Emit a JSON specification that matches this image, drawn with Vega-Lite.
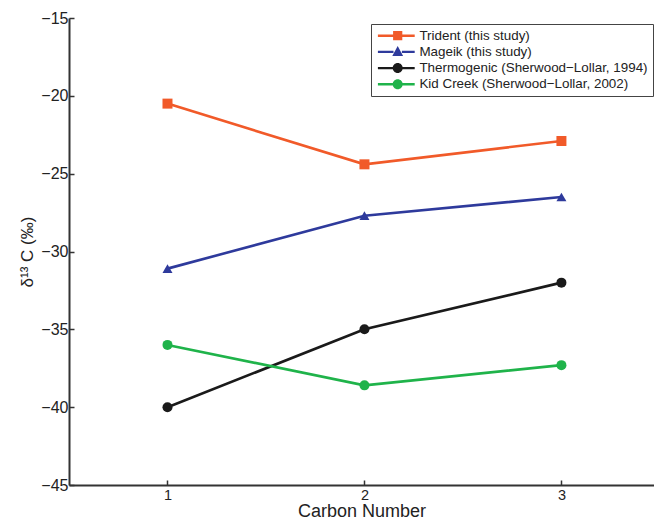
{
  "$schema": "https://vega.github.io/schema/vega-lite/v6.json",
  "width": 585,
  "height": 467,
  "autosize": {"type": "none"},
  "padding": {"left": 69, "top": 18, "right": 0, "bottom": 37},
  "background": "white",
  "config": {
    "view": {"stroke": null},
    "font": "Liberation Sans",
    "axis": {
      "grid": false,
      "domainColor": "#333333",
      "domainWidth": 2,
      "tickColor": "#333333",
      "tickWidth": 1.5,
      "labelColor": "#222222",
      "titleColor": "#222222",
      "labelFont": "Liberation Sans",
      "titleFont": "Liberation Sans",
      "titleFontWeight": "normal"
    }
  },
  "data": {
    "values": [
      {"series": "Trident (this study)", "c": 1, "d13C": -20.5},
      {"series": "Trident (this study)", "c": 2, "d13C": -24.4},
      {"series": "Trident (this study)", "c": 3, "d13C": -22.9},
      {"series": "Mageik (this study)", "c": 1, "d13C": -31.1},
      {"series": "Mageik (this study)", "c": 2, "d13C": -27.7},
      {"series": "Mageik (this study)", "c": 3, "d13C": -26.5},
      {"series": "Thermogenic (Sherwood−Lollar, 1994)", "c": 1, "d13C": -40},
      {"series": "Thermogenic (Sherwood−Lollar, 1994)", "c": 2, "d13C": -35},
      {"series": "Thermogenic (Sherwood−Lollar, 1994)", "c": 3, "d13C": -32},
      {"series": "Kid Creek (Sherwood−Lollar, 2002)", "c": 1, "d13C": -36},
      {"series": "Kid Creek (Sherwood−Lollar, 2002)", "c": 2, "d13C": -38.6},
      {"series": "Kid Creek (Sherwood−Lollar, 2002)", "c": 3, "d13C": -37.3}
    ]
  },
  "encoding": {
    "x": {
      "field": "c",
      "type": "quantitative",
      "scale": {"domain": [0.5, 3.47], "nice": false, "zero": false},
      "axis": {
        "values": [1, 2, 3],
        "title": "Carbon Number",
        "titleFontSize": 18,
        "titlePadding": 1,
        "labelFontSize": 14.5,
        "tickSize": -5,
        "labelPadding": 8
      }
    },
    "y": {
      "field": "d13C",
      "type": "quantitative",
      "scale": {"domain": [-45, -15], "nice": false, "zero": false},
      "axis": {
        "values": [-45, -40, -35, -30, -25, -20, -15],
        "title": "δ¹³ C (‰)",
        "titleFontSize": 17,
        "titlePadding": 4,
        "labelFontSize": 16,
        "tickSize": -5,
        "labelPadding": 6
      }
    }
  },
  "resolve": {"scale": {"color": "independent", "shape": "independent"}},
  "layer": [
    {
      "mark": {"type": "line", "strokeWidth": 2.6},
      "encoding": {
        "color": {
          "field": "series",
          "type": "nominal",
          "legend": null,
          "scale": {
            "domain": ["Trident (this study)", "Mageik (this study)", "Thermogenic (Sherwood−Lollar, 1994)", "Kid Creek (Sherwood−Lollar, 2002)"],
            "range": ["#f15a29", "#2e3a9c", "#1a1a1a", "#1fb34a"]
          }
        }
      }
    },
    {
      "mark": {"type": "point", "filled": true, "opacity": 1, "size": 100},
      "encoding": {
        "color": {
          "field": "series",
          "type": "nominal",
          "legend": null,
          "scale": {
            "domain": ["Trident (this study)", "Mageik (this study)", "Thermogenic (Sherwood−Lollar, 1994)", "Kid Creek (Sherwood−Lollar, 2002)"],
            "range": ["#f15a29", "#2e3a9c", "#1a1a1a", "#1fb34a"]
          }
        },
        "shape": {
          "field": "series",
          "type": "nominal",
          "legend": null,
          "scale": {
            "domain": ["Trident (this study)", "Mageik (this study)", "Thermogenic (Sherwood−Lollar, 1994)", "Kid Creek (Sherwood−Lollar, 2002)"],
            "range": ["square", "triangle-up", "circle", "circle"]
          }
        }
      }
    },
    {
      "mark": {"type": "point", "filled": true, "opacity": 0, "size": 64},
      "encoding": {
        "color": {
          "field": "series",
          "type": "nominal",
          "scale": {
            "domain": ["Trident (this study)", "Mageik (this study)", "Thermogenic (Sherwood−Lollar, 1994)", "Kid Creek (Sherwood−Lollar, 2002)"],
            "range": ["#f15a29", "#2e3a9c", "#1a1a1a", "#1fb34a"]
          },
          "legend": {
            "title": null,
            "orient": "none",
            "legendX": 302,
            "legendY": 6,
            "direction": "vertical",
            "fillColor": "white",
            "strokeColor": "#444444",
            "padding": 5,
            "labelFont": "Liberation Sans",
            "labelFontSize": 13.4,
            "labelColor": "#222222",
            "labelLimit": 400,
            "labelOffset": 30,
            "rowPadding": 1.2,
            "symbolSize": 64,
            "symbolOpacity": 1,
            "symbolStrokeWidth": 0
          }
        },
        "shape": {
          "field": "series",
          "type": "nominal",
          "scale": {
            "domain": ["Trident (this study)", "Mageik (this study)", "Thermogenic (Sherwood−Lollar, 1994)", "Kid Creek (Sherwood−Lollar, 2002)"],
            "range": [
              "M-1.2,-0.3H2.7V0.3H-1.2ZM4.8,-0.3H8V0.3H4.8ZM2.6,-1.15H4.9V1.15H2.6Z",
              "M-1.2,-0.3H2.7V0.3H-1.2ZM4.8,-0.3H8V0.3H4.8ZM3.75,-1.45L5.1,1.05H2.4Z",
              "M-1.2,-0.3H2.7V0.3H-1.2ZM4.8,-0.3H8V0.3H4.8ZM2.5,0A1.25,1.25,0,1,1,5,0A1.25,1.25,0,1,1,2.5,0Z",
              "M-1.2,-0.3H2.7V0.3H-1.2ZM4.8,-0.3H8V0.3H4.8ZM2.5,0A1.25,1.25,0,1,1,5,0A1.25,1.25,0,1,1,2.5,0Z"
            ]
          },
          "legend": {
            "title": null,
            "orient": "none",
            "legendX": 302,
            "legendY": 6,
            "direction": "vertical",
            "fillColor": "white",
            "strokeColor": "#444444",
            "padding": 5,
            "labelFont": "Liberation Sans",
            "labelFontSize": 13.4,
            "labelColor": "#222222",
            "labelLimit": 400,
            "labelOffset": 30,
            "rowPadding": 1.2,
            "symbolSize": 64,
            "symbolOpacity": 1,
            "symbolStrokeWidth": 0
          }
        }
      }
    }
  ]
}
